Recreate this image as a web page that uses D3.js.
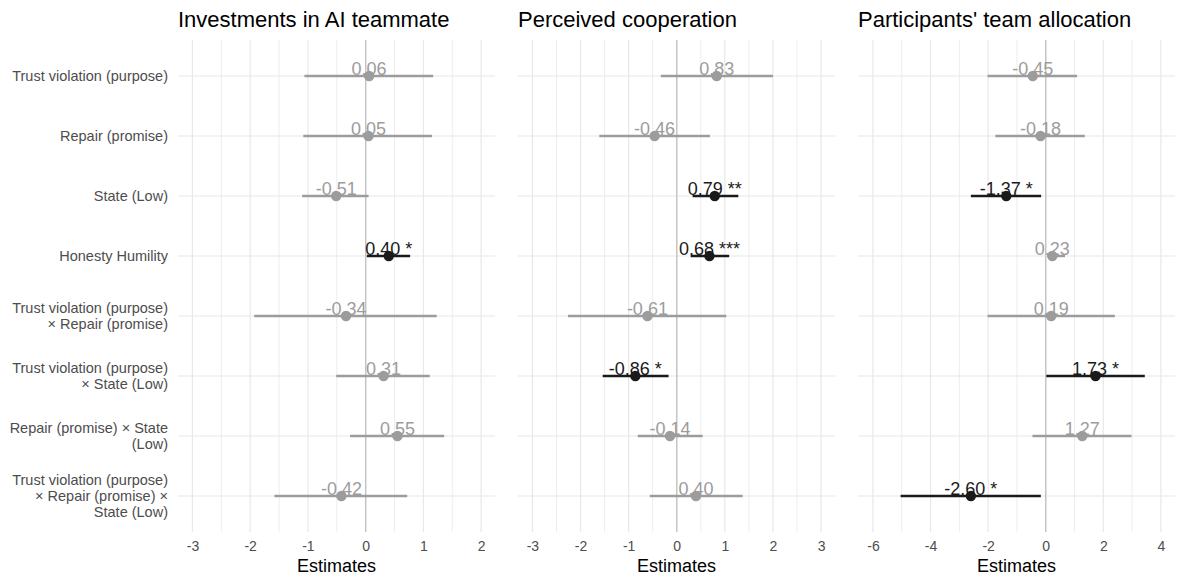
<!DOCTYPE html>
<html>
<head>
<meta charset="utf-8">
<script src="https://cdn.jsdelivr.net/npm/d3@7"></script>
<style>
  body { margin: 0; background: #fff; }
  svg { display: block; font-family: "Liberation Sans", Arial, Helvetica, sans-serif; }
</style>
</head>
<body>
<div id="area"></div>
<script>
// model terms (label lines), top to bottom
const terms = [
  ["Trust violation (purpose)"],
  ["Repair (promise)"],
  ["State (Low)"],
  ["Honesty Humility"],
  ["Trust violation (purpose)", "\u00d7 Repair (promise)"],
  ["Trust violation (purpose)", "\u00d7 State (Low)"],
  ["Repair (promise) \u00d7 State", "(Low)"],
  ["Trust violation (purpose)", "\u00d7 Repair (promise) \u00d7", "State (Low)"]
];

const titles = ["Investments in AI teammate", "Perceived cooperation", "Participants' team allocation"];

// estimates, CI bounds and significance stars per model
const est_invest = [0.06, 0.05, -0.51, 0.40, -0.34, 0.31, 0.55, -0.42];
const lo_invest  = [-1.06, -1.08, -1.10, 0.02, -1.93, -0.51, -0.27, -1.58];
const hi_invest  = [1.17, 1.15, 0.05, 0.77, 1.23, 1.11, 1.36, 0.72];
const sig_invest = ["", "", "", "*", "", "", "", ""];

const est_coop = [0.83, -0.46, 0.79, 0.68, -0.61, -0.86, -0.14, 0.40];
const lo_coop  = [-0.33, -1.61, 0.33, 0.29, -2.26, -1.54, -0.81, -0.56];
const hi_coop  = [2.00, 0.69, 1.28, 1.09, 1.03, -0.17, 0.54, 1.37];
const sig_coop = ["", "", "**", "***", "", "*", "", ""];

const est_alloc = [-0.45, -0.18, -1.37, 0.23, 0.19, 1.73, 1.27, -2.60];
const lo_alloc  = [-2.02, -1.75, -2.60, 0.06, -2.02, 0.02, -0.46, -5.04];
const hi_alloc  = [1.09, 1.36, -0.16, 0.67, 2.40, 3.44, 2.98, -0.17];
const sig_alloc = ["", "", "*", "", "", "*", "", "*"];

// axis ticks per panel
const ticks_invest = [-3, -2, -1, 0, 1, 2];
const ticks_coop = [-3, -2, -1, 0, 1, 2, 3];
const ticks_alloc = [-6, -4, -2, 0, 2, 4];
const domains = [[-3.25, 2.24], [-3.30, 3.29], [-6.52, 4.49]];

const panels = [
  { est: est_invest, lo: lo_invest, hi: hi_invest, sig: sig_invest, ticks: ticks_invest },
  { est: est_coop, lo: lo_coop, hi: hi_coop, sig: sig_coop, ticks: ticks_coop },
  { est: est_alloc, lo: lo_alloc, hi: hi_alloc, sig: sig_alloc, ticks: ticks_alloc }
];

var width = 1177, height = 580;
var panel_left = [178, 518, 858], panel_w = 317,
    top_y = 40, bottom_y = 532;
var grey = '#9c9c9c', dark = '#1a1a1a';

const svg = d3.select("#area").append("svg")
  .attr("width", width).attr("height", height);

const y = d3.scalePoint()
  .domain(d3.range(terms.length))
  .range([top_y, bottom_y])
  .padding(0.6);

// y labels
const ylab = svg.append("g").attr("fill", "#4d4d4d").style("font-size", "14.5px");
terms.forEach((lines, i) => {
  lines.forEach((ln, j) => {
    ylab.append("text")
      .attr("x", 168)
      .attr("y", y(i) + (j - (lines.length - 1) / 2) * 16 + 5)
      .attr("text-anchor", "end")
      .text(ln);
  });
});

panels.forEach((p, k) => {
  const x0 = panel_left[k];
  const x = d3.scaleLinear().domain(domains[k]).range([x0, x0 + panel_w]);
  const g = svg.append("g");

  // minor gridlines at midpoints between ticks
  const step = p.ticks[1] - p.ticks[0];
  const minor = [p.ticks[0] - step / 2].concat(p.ticks.map(t => t + step / 2))
    .filter(v => v > domains[k][0] && v < domains[k][1]);
  g.selectAll(".minor").data(minor).join("line")
    .attr("x1", d => x(d)).attr("x2", d => x(d))
    .attr("y1", top_y).attr("y2", bottom_y)
    .attr("stroke", "#ededed").attr("stroke-width", 1);
  g.selectAll(".major").data(p.ticks).join("line")
    .attr("x1", d => x(d)).attr("x2", d => x(d))
    .attr("y1", top_y).attr("y2", bottom_y)
    .attr("stroke", "#e8e8e8").attr("stroke-width", 1.2);
  g.selectAll(".hgrid").data(terms).join("line")
    .attr("x1", x0).attr("x2", x0 + panel_w)
    .attr("y1", (d, i) => y(i)).attr("y2", (d, i) => y(i))
    .attr("stroke", "#e8e8e8").attr("stroke-width", 1.2);

  // zero reference line
  g.append("line")
    .attr("x1", x(0)).attr("x2", x(0))
    .attr("y1", top_y).attr("y2", bottom_y)
    .attr("stroke", "#c4c4c4").attr("stroke-width", 1.4);

  // x axis
  const ax = g.append("g")
    .attr("transform", `translate(0,${bottom_y})`)
    .call(d3.axisBottom(x).tickValues(p.ticks).tickSize(0).tickPadding(9).tickFormat(d => String(d)));
  ax.select(".domain").remove();
  ax.selectAll("text").attr("fill", "#4d4d4d").style("font-size", "14px")
    .style("font-family", "'Liberation Sans', Arial, Helvetica, sans-serif");

  g.append("text")
    .attr("x", x0 + panel_w / 2).attr("y", 572)
    .attr("text-anchor", "middle")
    .attr("fill", "#000").style("font-size", "18px")
    .text("Estimates");

  g.append("text")
    .attr("x", x0).attr("y", 27)
    .attr("fill", "#000").style("font-size", "22px")
    .text(titles[k]);

  const rows = p.est.map((e, i) => ({ i, e, lo: p.lo[i], hi: p.hi[i], sig: p.sig[i] }));
  const col = d => d.sig ? dark : grey;

  g.selectAll(".ci").data(rows).join("line")
    .attr("x1", d => x(d.lo)).attr("x2", d => x(d.hi))
    .attr("y1", d => y(d.i)).attr("y2", d => y(d.i))
    .attr("stroke", col).attr("stroke-width", 2.4);

  g.selectAll(".pt").data(rows).join("circle")
    .attr("cx", d => x(d.e)).attr("cy", d => y(d.i))
    .attr("r", 5.2).attr("fill", col);

  g.selectAll(".lbl").data(rows).join("text")
    .attr("x", d => x(d.e)).attr("y", d => y(d.i) - 1.5)
    .attr("text-anchor", "middle")
    .attr("fill", col).style("font-size", "18px")
    .text(d => d.e.toFixed(2) + (d.sig ? " " + d.sig : ""));
});
</script>
</body>
</html>
